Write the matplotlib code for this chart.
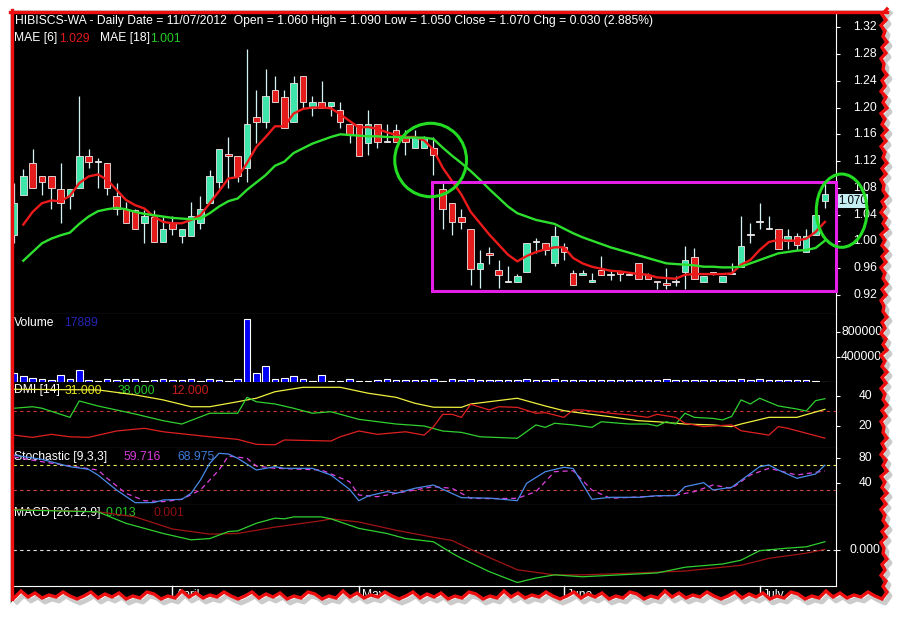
import matplotlib
matplotlib.use('Agg')
import matplotlib.pyplot as plt
import numpy as np
from matplotlib.patches import Rectangle, Ellipse, Polygon

plt.rcParams['font.family'] = ['Liberation Sans', 'DejaVu Sans']
FS = 8.7

# ---- daily candles (index 0 = mid March 2012, last = 11/07/2012) ----
opens = [1.010, 1.069, 1.117, 1.098, 1.098, 1.078, 1.068, 1.079, 1.128, 1.118,
         1.117, 1.068, 1.049, 1.047, 1.028, 1.037, 0.999, 1.028, 1.008, 1.008,
         1.028, 1.058, 1.088, 1.130, 1.127, 1.109, 1.186, 1.178, 1.227, 1.216,
         1.178, 1.247, 1.199, 1.208, 1.203, 1.197, 1.176, 1.176, 1.147, 1.176,
         1.148, 1.167, 1.158, 1.139, 1.139, 1.139, 1.078, 1.057, 1.037, 1.018,
         0.959, 0.982, 0.957, 0.939, 0.939, 0.954, 0.999, 0.997, 0.968, 0.992,
         0.952, 0.949, 0.939, 0.957, 0.949, 0.956, 0.950, 0.967, 0.950, 0.941,
         0.937, 0.939, 0.954, 0.977, 0.939, 0.952, 0.939, 0.951, 0.962, 1.009,
         1.029, 1.019, 1.018, 1.001, 1.008, 0.984, 1.010, 1.060]
highs = [1.087, 1.108, 1.138, 1.098, 1.098, 1.117, 1.078, 1.217, 1.138, 1.125,
         1.117, 1.087, 1.059, 1.049, 1.047, 1.047, 1.037, 1.038, 1.018, 1.059,
         1.068, 1.107, 1.138, 1.156, 1.127, 1.287, 1.227, 1.257, 1.247, 1.227,
         1.247, 1.247, 1.217, 1.239, 1.208, 1.208, 1.176, 1.176, 1.197, 1.176,
         1.176, 1.176, 1.166, 1.166, 1.157, 1.156, 1.087, 1.057, 1.048, 1.018,
         0.987, 0.992, 0.972, 0.963, 0.951, 0.997, 1.005, 0.997, 1.023, 0.997,
         0.957, 0.957, 0.953, 0.978, 0.955, 0.957, 0.954, 0.967, 0.953, 0.941,
         0.960, 0.948, 0.993, 0.990, 0.948, 0.954, 0.948, 0.967, 1.038, 1.027,
         1.058, 1.038, 1.018, 1.018, 1.013, 1.018, 1.040, 1.090]
lows = [0.997, 1.069, 1.079, 1.069, 1.049, 1.028, 1.049, 1.079, 1.109, 1.079,
        1.069, 1.039, 1.028, 1.019, 0.998, 0.999, 0.999, 1.009, 0.998, 1.008,
        1.018, 1.058, 1.079, 1.079, 1.088, 1.088, 1.147, 1.169, 1.209, 1.169,
        1.178, 1.199, 1.187, 1.199, 1.187, 1.169, 1.147, 1.128, 1.129, 1.139,
        1.148, 1.149, 1.129, 1.139, 1.139, 1.099, 1.019, 1.009, 1.019, 0.935,
        0.930, 0.966, 0.930, 0.939, 0.939, 0.954, 0.982, 0.979, 0.963, 0.972,
        0.935, 0.949, 0.939, 0.949, 0.942, 0.941, 0.950, 0.944, 0.944, 0.928,
        0.928, 0.933, 0.928, 0.943, 0.939, 0.950, 0.939, 0.951, 0.962, 0.997,
        1.019, 1.019, 0.988, 0.988, 0.987, 0.984, 1.010, 1.050]
closes = [1.057, 1.098, 1.079, 1.088, 1.079, 1.058, 1.078, 1.128, 1.118, 1.118,
          1.079, 1.049, 1.028, 1.019, 1.038, 0.999, 1.018, 1.019, 1.018, 1.038,
          1.048, 1.098, 1.138, 1.128, 1.098, 1.176, 1.178, 1.217, 1.209, 1.169,
          1.237, 1.209, 1.208, 1.199, 1.208, 1.178, 1.159, 1.128, 1.176, 1.148,
          1.148, 1.149, 1.149, 1.156, 1.156, 1.129, 1.049, 1.029, 1.029, 0.959,
          0.967, 0.979, 0.949, 0.939, 0.948, 0.997, 0.999, 0.987, 1.008, 0.984,
          0.935, 0.952, 0.942, 0.949, 0.949, 0.951, 0.950, 0.944, 0.944, 0.939,
          0.935, 0.939, 0.972, 0.943, 0.948, 0.952, 0.948, 0.951, 0.993, 1.009,
          1.029, 1.019, 0.988, 1.008, 0.994, 1.008, 1.040, 1.070]
volume = [1500000, 930000, 700000, 450000, 290000, 1140000, 450000, 1940000, 290000, 180000,
          450000, 340000, 500000, 500000, 180000, 340000, 500000, 340000, 340000, 500000,
          180000, 500000, 340000, 180000, 500000, 10050000, 1460000, 2530000, 500000, 660000,
          980000, 500000, 180000, 1140000, 180000, 180000, 500000, 180000, 180000, 340000,
          500000, 340000, 340000, 340000, 340000, 500000, 180000, 500000, 340000, 500000,
          340000, 340000, 340000, 340000, 340000, 500000, 340000, 340000, 500000, 340000,
          340000, 340000, 340000, 340000, 340000, 340000, 340000, 340000, 340000, 340000,
          500000, 340000, 340000, 340000, 340000, 340000, 340000, 340000, 500000, 340000,
          500000, 340000, 340000, 340000, 340000, 340000, 180000, 17889]

nan = float('nan')
mae6 = [nan, 1.025, 1.044, 1.057, 1.061, 1.060, 1.068, 1.087, 1.097, 1.100,
        1.092, 1.077, 1.062, 1.054, 1.049, 1.037, 1.029, 1.027, 1.027, 1.032,
        1.039, 1.057, 1.075, 1.094, 1.096, 1.117, 1.141, 1.156, 1.172, 1.172,
        1.191, 1.198, 1.200, 1.200, 1.199, 1.190, 1.180, 1.170, 1.171, 1.168,
        1.163, 1.159, 1.156, 1.156, 1.151, 1.137, 1.110, 1.090, 1.070, 1.044,
        1.027, 1.010, 0.995, 0.980, 0.970, 0.978, 0.984, 0.988, 0.991, 0.991,
        0.975, 0.967, 0.962, 0.959, 0.956, 0.955, 0.953, 0.951, 0.950, 0.946,
        0.945, 0.944, 0.950, 0.951, 0.951, 0.951, 0.951, 0.952, 0.965, 0.972,
        0.987, 0.999, 1.002, 1.001, 1.001, 1.004, 1.014, 1.029]
mae18 = [nan, 0.971, 0.984, 0.997, 1.004, 1.009, 1.013, 1.026, 1.037, 1.045,
         1.048, 1.050, 1.048, 1.044, 1.041, 1.039, 1.037, 1.035, 1.034, 1.033,
         1.034, 1.042, 1.052, 1.060, 1.064, 1.077, 1.088, 1.099, 1.113, 1.119,
         1.132, 1.139, 1.146, 1.151, 1.156, 1.160, 1.159, 1.158, 1.157, 1.157,
         1.156, 1.156, 1.155, 1.155, 1.155, 1.153, 1.140, 1.128, 1.117, 1.105,
         1.092, 1.078, 1.065, 1.052, 1.042, 1.037, 1.032, 1.029, 1.026, 1.019,
         1.012, 1.006, 1.001, 0.996, 0.991, 0.987, 0.983, 0.979, 0.975, 0.971,
         0.967, 0.966, 0.965, 0.964, 0.962, 0.962, 0.961, 0.961, 0.962, 0.967,
         0.972, 0.977, 0.982, 0.984, 0.986, 0.987, 0.990, 1.001]

# DMI [14]
adx_i = [0, 9, 13, 16, 19, 21, 24, 26, 28, 31, 35, 38, 41, 43, 45, 48, 49, 54, 57, 59,
         61, 64, 67, 69, 72, 75, 77, 78, 81, 84, 87]
adx = [44.2, 43.8, 40.5, 37.2, 32.7, 32.7, 36.0, 38.3, 42.6, 45.5, 45.5, 41.6, 38.9, 35.0, 32.4,
       32.3, 34.5, 38.3, 33.2, 30.1, 28.4, 26.1, 23.5, 22.8, 21.3, 20.7, 19.6, 21.3, 25.7, 25.7, 31.0]
pdi_i = [0, 2, 3, 6, 7, 9, 13, 16, 18, 21, 24, 25, 26, 28, 30, 32, 34, 37, 41, 44,
         46, 48, 50, 54, 56, 57, 58, 60, 62, 63, 66, 68, 69, 70, 71, 72, 73, 75, 76, 77,
         78, 79, 80, 82, 84, 85, 86, 87]
pdi = [31.7, 32.7, 31.7, 25.7, 36.5, 33.2, 27.9, 23.5, 21.3, 28.4, 28.4, 38.9, 36.0, 34.5, 31.7,
       28.4, 29.4, 24.4, 21.3, 20.0, 16.7, 15.8, 12.9, 11.9, 20.7, 19.1, 21.8, 20.7, 19.1, 22.8,
       21.3, 21.3, 20.0, 22.8, 21.3, 28.4, 25.7, 25.0, 24.0, 26.3, 37.2, 34.5, 38.3, 33.2, 31.2,
       29.9, 36.7, 38.0]
mdi_i = [0, 2, 4, 6, 8, 11, 14, 16, 21, 24, 26, 28, 29, 34, 35, 37, 39, 42, 44, 45,
         46, 47, 48, 49, 51, 52, 54, 56, 57, 59, 60, 61, 64, 66, 68, 69, 71, 72, 74, 75,
         77, 78, 81, 82, 83, 87]
mdi = [14.0, 12.5, 14.5, 12.9, 12.5, 16.7, 18.5, 16.2, 12.9, 11.2, 7.9, 7.6, 10.8, 10.1, 12.9,
       16.7, 14.5, 16.2, 14.0, 19.5, 27.7, 27.7, 25.7, 34.3, 30.6, 32.7, 32.3, 28.4, 28.8, 25.7,
       30.6, 30.6, 28.4, 27.3, 25.7, 27.7, 25.7, 21.8, 19.6, 20.0, 20.7, 16.9, 14.0, 19.6, 18.5,
       12.0]

# Stochastic [9,3,3]
sk_i = [0, 3, 6, 8, 9, 11, 13, 15, 16, 18, 19, 20, 21, 22, 23, 24, 26, 28, 29, 32,
        34, 36, 37, 38, 40, 41, 43, 45, 48, 51, 54, 55, 57, 59, 60, 62, 64, 67, 69, 71,
        72, 74, 75, 77, 80, 81, 82, 84, 86, 87]
sk = [85.0, 78.3, 66.6, 62.4, 53.3, 29.3, 9.0, 9.2, 13.3, 14.4, 24.0, 45.3, 72.0, 88.0, 86.9,
      80.0, 61.3, 66.6, 64.0, 64.0, 53.3, 30.4, 12.2, 19.7, 26.7, 24.0, 32.0, 37.3, 17.0, 16.3,
      12.2, 40.0, 58.6, 65.6, 63.7, 14.4, 17.6, 17.6, 20.2, 20.2, 34.6, 41.0, 29.3, 33.6, 66.6,
      69.3, 61.3, 48.0, 54.9, 68.975]
sd_i = [0, 3, 6, 9, 10, 12, 14, 16, 18, 20, 22, 23, 25, 26, 28, 31, 33, 36, 37, 39,
        41, 44, 45, 47, 49, 51, 54, 56, 58, 60, 62, 64, 67, 71, 73, 75, 77, 79, 81, 84, 87]
sd = [82.0, 74.6, 67.7, 61.3, 48.0, 24.0, 12.2, 10.6, 14.4, 29.3, 61.3, 83.7, 80.0, 67.7, 64.0,
      62.4, 61.3, 42.6, 21.3, 18.6, 24.0, 32.0, 34.6, 32.0, 16.0, 15.5, 16.0, 26.7, 58.6, 60.2,
      29.3, 16.0, 18.1, 21.0, 26.7, 37.3, 32.0, 53.3, 64.0, 53.3, 59.716]

# MACD [26,12,9]
macd_i = [0, 9, 12, 16, 19, 21, 23, 24, 26, 28, 29, 30, 33, 34, 37, 40, 42, 45, 47, 48,
          51, 54, 56, 58, 61, 65, 69, 72, 76, 78, 80, 83, 85, 87]
macd = [0.063, 0.060, 0.042, 0.026, 0.016, 0.018, 0.029, 0.030, 0.042, 0.050, 0.049, 0.052,
        0.052, 0.049, 0.034, 0.026, 0.018, 0.013, -0.005, -0.013, -0.034, -0.051, -0.044, -0.039,
        -0.042, -0.039, -0.036, -0.027, -0.022, -0.016, -0.001, 0.003, 0.005, 0.013]
sig_i = [0, 9, 13, 17, 21, 24, 28, 31, 33, 34, 37, 41, 45, 47, 49, 54, 58, 61, 65, 72,
         78, 81, 85, 87]
sig = [0.064, 0.060, 0.052, 0.033, 0.025, 0.026, 0.036, 0.042, 0.046, 0.049, 0.044, 0.031,
       0.020, 0.015, 0.001, -0.031, -0.039, -0.039, -0.037, -0.033, -0.024, -0.013, -0.005, 0.001]

months = ['April', 'May', 'June', 'July']
month_idx = [17, 37, 59, 80]

price_ticks = [0.92, 0.96, 1.00, 1.04, 1.08, 1.12, 1.16, 1.20, 1.24, 1.28, 1.32]

# ---- layout (pixel rows of the original screenshot) ----
W, H = 906, 620
fig = plt.figure(figsize=(W / 100, H / 100), dpi=100)
fig.patch.set_facecolor('white')

X0, X1 = 13, 835.5


def panel(top, bottom):
    ax = fig.add_axes([X0 / W, 1 - bottom / H, (X1 - X0) / W, (bottom - top) / H])
    ax.set_facecolor('black')
    for s in ['left', 'top']:
        ax.spines[s].set_visible(False)
    ax.spines['right'].set_color('white')
    ax.spines['bottom'].set_color('#a0a0a0')
    ax.set_xlim(-0.107, 88.14)
    ax.set_xticks([])
    ax.yaxis.tick_right()
    ax.tick_params(axis='y', length=3, width=0.8, color='white', labelright=False, labelleft=False)
    return ax


def right_labels(ax, ticks, fmt):
    ax.set_yticks(ticks)
    for t in ticks:
        ax.text((865 - X0) / (X1 - X0), t, fmt(t), transform=ax.get_yaxis_transform(),
                ha='center', va='center', color='white', fontsize=FS, clip_on=False)


def ptext(ax, x, y, s, color, z=1):
    ax.text(x / W, 1 - y / H, s, transform=fig.transFigure, color=color, fontsize=FS,
            ha='left', va='center', zorder=z)


bg = fig.add_axes([0, 0, 1, 1], zorder=-5)
bg.set_xlim(0, W)
bg.set_ylim(H, 0)
bg.axis('off')
bg.add_patch(Rectangle((11, 11), 885, 598, color='black'))

ax_p = panel(13, 314)
ax_v = panel(314, 382)
ax_d = panel(382, 448)
ax_s = panel(448, 505)
ax_m = panel(505, 586)
ax_m.spines['bottom'].set_color('white')

idx = np.arange(len(closes))

# ---- price panel ----
ax_p.set_ylim(0.8913, 1.3414)
right_labels(ax_p, price_ticks, lambda t: f'{t:.2f}')
o = np.array(opens)
c = np.array(closes)
body_col = ['#3ee6ab' if cc > oo else ('#e41c1c' if cc < oo else '#d8f4f4') for oo, cc in zip(o, c)]
ax_p.vlines(idx, lows, highs, color='#d2f2f4', lw=0.9, zorder=2)
ax_p.bar(idx, np.maximum(np.abs(c - o), 0.0016), bottom=np.minimum(o, c), width=0.7,
         color=body_col, edgecolor='#f0e8e8', linewidth=0.6, zorder=3)
ax_p.plot(idx, mae6, color='#ec1a1a', lw=1.7, zorder=4)
ax_p.plot(idx, mae18, color='#2ee02e', lw=1.7, zorder=4)

ax_p.add_patch(Rectangle((44.85, 0.926), 88.14 - 44.85, 1.088 - 0.926, fill=False,
                         edgecolor='#e41ee6', lw=2.2, zorder=6, clip_on=False))
ax_p.add_patch(Ellipse((44.7, 1.1216), 7.7, 0.1098, fill=False, edgecolor='#22dd22',
                       lw=2.2, zorder=6, clip_on=False))
ax_p.add_patch(Ellipse((88.8, 1.0458), 5.44, 0.1096, fill=False, edgecolor='#22dd22',
                       lw=2.2, zorder=7, clip_on=False))
# last-price tag, sitting just under the close level as in the original
ax_p.annotate(f'{closes[-1]:.3f}', xy=((838 - X0) / (X1 - X0), closes[-1]),
              xycoords=ax_p.get_yaxis_transform(), xytext=(0, -4.8), textcoords='offset points',
              ha='left', va='center', color='black', fontsize=8.3, annotation_clip=False, zorder=5,
              bbox=dict(boxstyle='square,pad=0.08', facecolor='#c4eef2', edgecolor='none'))

ptext(ax_p, 15, 21, 'HIBISCS-WA - Daily Date = 11/07/2012  Open = 1.060 High = 1.090 Low = 1.050 '
      'Close = 1.070 Chg = 0.030 (2.885%)', 'white')
ptext(ax_p, 14, 38.5, 'MAE [6]', 'white')
ptext(ax_p, 59, 38.5, '1.029', '#e01818')
ptext(ax_p, 100, 38.5, 'MAE [18]', 'white')
ptext(ax_p, 150, 38.5, '1.001', '#22cc22')

# ---- volume ----
ax_v.set_ylim(0, 10880000)
right_labels(ax_v, [4000000, 8000000], lambda t: f'{t:.0f}')
ax_v.bar(idx, volume, width=0.7, color='#0000f4', edgecolor='white', linewidth=0.8, zorder=3)
ptext(ax_v, 14, 322.5, 'Volume', 'white')
ptext(ax_v, 64, 322.5, '17889', '#2424b4')

# ---- DMI ----
ax_d.set_ylim(5.5, 49.0)
right_labels(ax_d, [20, 40], lambda t: f'{t:.0f}')
ax_d.axhline(30, color='#c83232', lw=0.8, ls=(0, (3, 3)), zorder=2)
ax_d.plot(adx_i, adx, color='#f0f040', lw=0.9, zorder=3)
ax_d.plot(pdi_i, pdi, color='#30d030', lw=0.9, zorder=3)
ax_d.plot(mdi_i, mdi, color='#e02020', lw=0.9, zorder=3)
ptext(ax_d, 14, 390.5, 'DMI [14]', 'white')
ptext(ax_d, 65, 390.5, '31.000', '#e6e620')
ptext(ax_d, 118, 390.5, '38.000', '#28c828')
ptext(ax_d, 171, 390.5, '12.000', '#c81c1c')

# ---- Stochastic ----
ax_s.set_ylim(5.3, 96.5)
right_labels(ax_s, [40, 80], lambda t: f'{t:.0f}')
ax_s.axhline(70, color='#e8e850', lw=0.8, ls=(0, (3, 3)), zorder=2)
ax_s.axhline(30, color='#c84848', lw=0.8, ls=(0, (3, 3)), zorder=2)
ax_s.plot(sd_i, sd, color='#e040e0', lw=0.9, ls=(0, (4, 3)), zorder=3)
ax_s.plot(sk_i, sk, color='#4a8ae8', lw=0.9, zorder=3)
ptext(ax_s, 14, 457, 'Stochastic [9,3,3]', 'white')
ptext(ax_s, 123, 457, '59.716', '#d83cd8')
ptext(ax_s, 177, 457, '68.975', '#3c7cd8')

# ---- MACD ----
ax_m.set_ylim(-0.0565, 0.0707)
right_labels(ax_m, [0.0], lambda t: f'{t:.3f}')
ax_m.axhline(0, color='#e0e0e0', lw=0.8, ls=(0, (3, 3)), zorder=2)
ax_m.plot(sig_i, sig, color='#a01414', lw=0.9, zorder=3)
ax_m.plot(macd_i, macd, color='#30d030', lw=0.9, zorder=3)
ptext(ax_m, 14, 513, 'MACD [26,12,9]', 'white')
ptext(ax_m, 105, 513, '0.013', '#28c828')
ptext(ax_m, 154, 513, '0.001', '#901010')

tr = ax_m.get_xaxis_transform()
for m, i in zip(months, month_idx):
    ax_m.plot([i, i], [0, -0.14], color='white', lw=1, transform=tr, clip_on=False)
    ax_m.text(i + 0.35, -0.11, m, transform=tr, color='white', fontsize=FS, ha='left',
              va='center', clip_on=False)

# ---- torn-paper frame ----
ov = fig.add_axes([0, 0, 1, 1], zorder=20)
ov.set_xlim(0, W)
ov.set_ylim(H, 0)
ov.axis('off')
ov.patch.set_alpha(0)

jag_r = [0, 5, 1, 6, 2, 4, 0, 5, 1, 6, 3, 4, 0, 5, 2, 6, 1, 4, 0, 6, 2, 5]
jag_b = [0, 3, 7, 2, 4, 1, 6, 2, 8, 1, 3, 0, 5, 7, 1, 3, 0, 6, 2, 5, 1, 7, 3]
ry = np.arange(9, 596, 5.5)
rx = np.array([887 - jag_r[k % len(jag_r)] for k in range(len(ry))])
bx = np.arange(882, 8, -7.0)
by = np.array([599 - jag_b[k % len(jag_b)] for k in range(len(bx))])
ex = np.concatenate([rx, bx])
ey = np.concatenate([ry, by])

cover = list(zip(ex, ey)) + [(0, H), (W, H), (W, 0)]
ov.add_patch(Polygon(cover, closed=True, facecolor='white', edgecolor='none', zorder=1))
ov.plot(ex + 3, ey + 4, color='#8c8c8c', lw=3.5, alpha=0.45, zorder=2, solid_joinstyle='round')
ov.plot(ex, ey, color='#ee1010', lw=2.4, zorder=3, solid_joinstyle='miter')
ov.plot([10, 887], [11.5, 11.5], color='#ee1010', lw=2.4, zorder=3)
ov.plot([11.5, 11.5], [10, 599], color='#ee1010', lw=2.4, zorder=3)

fig.savefig('out.png', dpi=100, facecolor='white')
